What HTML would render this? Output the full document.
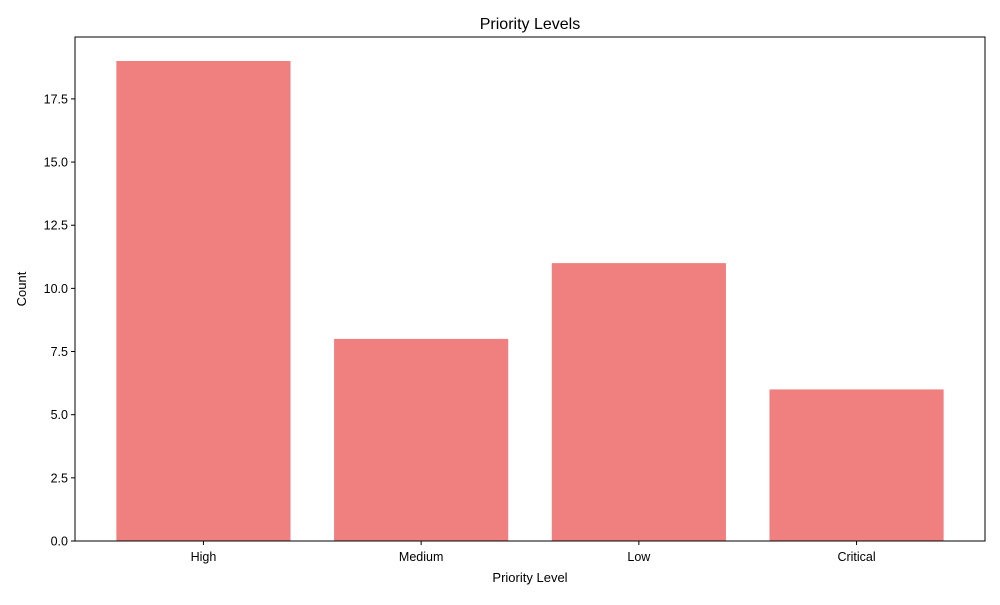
<!DOCTYPE html>
<html><head><meta charset="utf-8"><style>
body{margin:0;background:#fff;}
svg{font-family:"Liberation Sans","DejaVu Sans",sans-serif;}
</style></head><body>
<svg id="chart" width="1000" height="600">
<rect width="1000" height="600" fill="#fff"></rect>
<text x="530" y="29" text-anchor="middle" font-size="16">Priority Levels</text>
<g id="bars"></g>
<g id="axes"></g>
<text x="530" y="582" text-anchor="middle" font-size="13">Priority Level</text>
<text transform="translate(26,289) rotate(-90)" text-anchor="middle" font-size="13">Count</text>
</svg>
<script>
const categories = ["High","Medium","Low","Critical"];
const counts = [19,8,11,6];
const yTicks = [0,2.5,5,7.5,10,12.5,15,17.5];
const L=75,R=985,T=37,B=541;
const ymax = Math.max(...counts)*1.05;
const xmin=-0.59, xmax=categories.length-0.41;
const sx=v=>L+(v-xmin)/(xmax-xmin)*(R-L);
const sy=v=>B-v/ymax*(B-T);
const NS="http://www.w3.org/2000/svg";
const bars=document.getElementById('bars'), axes=document.getElementById('axes');
function mk(tag,attrs,parent){const e=document.createElementNS(NS,tag);for(const k in attrs)e.setAttribute(k,attrs[k]);parent.appendChild(e);return e;}
categories.forEach((c,i)=>{
  const x0=sx(i-0.4),x1=sx(i+0.4);
  const r=mk('rect',{x:x0,y:sy(counts[i]),width:x1-x0,height:B-sy(counts[i]),fill:'#F08080'},bars);
  
  
  const t=mk('line',{x1:sx(i),x2:sx(i),y1:B,y2:B+4,stroke:'#000'},axes);
  
  
  const l=mk('text',{x:sx(i),y:B+20,'text-anchor':'middle','font-size':'12.5'},axes);
  l.textContent=c;
  
  
});
yTicks.forEach(v=>{
  const t=mk('line',{x1:L-4,x2:L,y1:sy(v),y2:sy(v),stroke:'#000'},axes);
  
  
  const l=mk('text',{x:L-7,y:sy(v)+4.5,'text-anchor':'end','font-size':'12.5'},axes);
  l.textContent=v.toFixed(1);
  
  
});
const f=mk('rect',{x:L,y:T,width:R-L,height:B-T,fill:'none',stroke:'#000','stroke-width':1},axes);


</script>
</body></html>
